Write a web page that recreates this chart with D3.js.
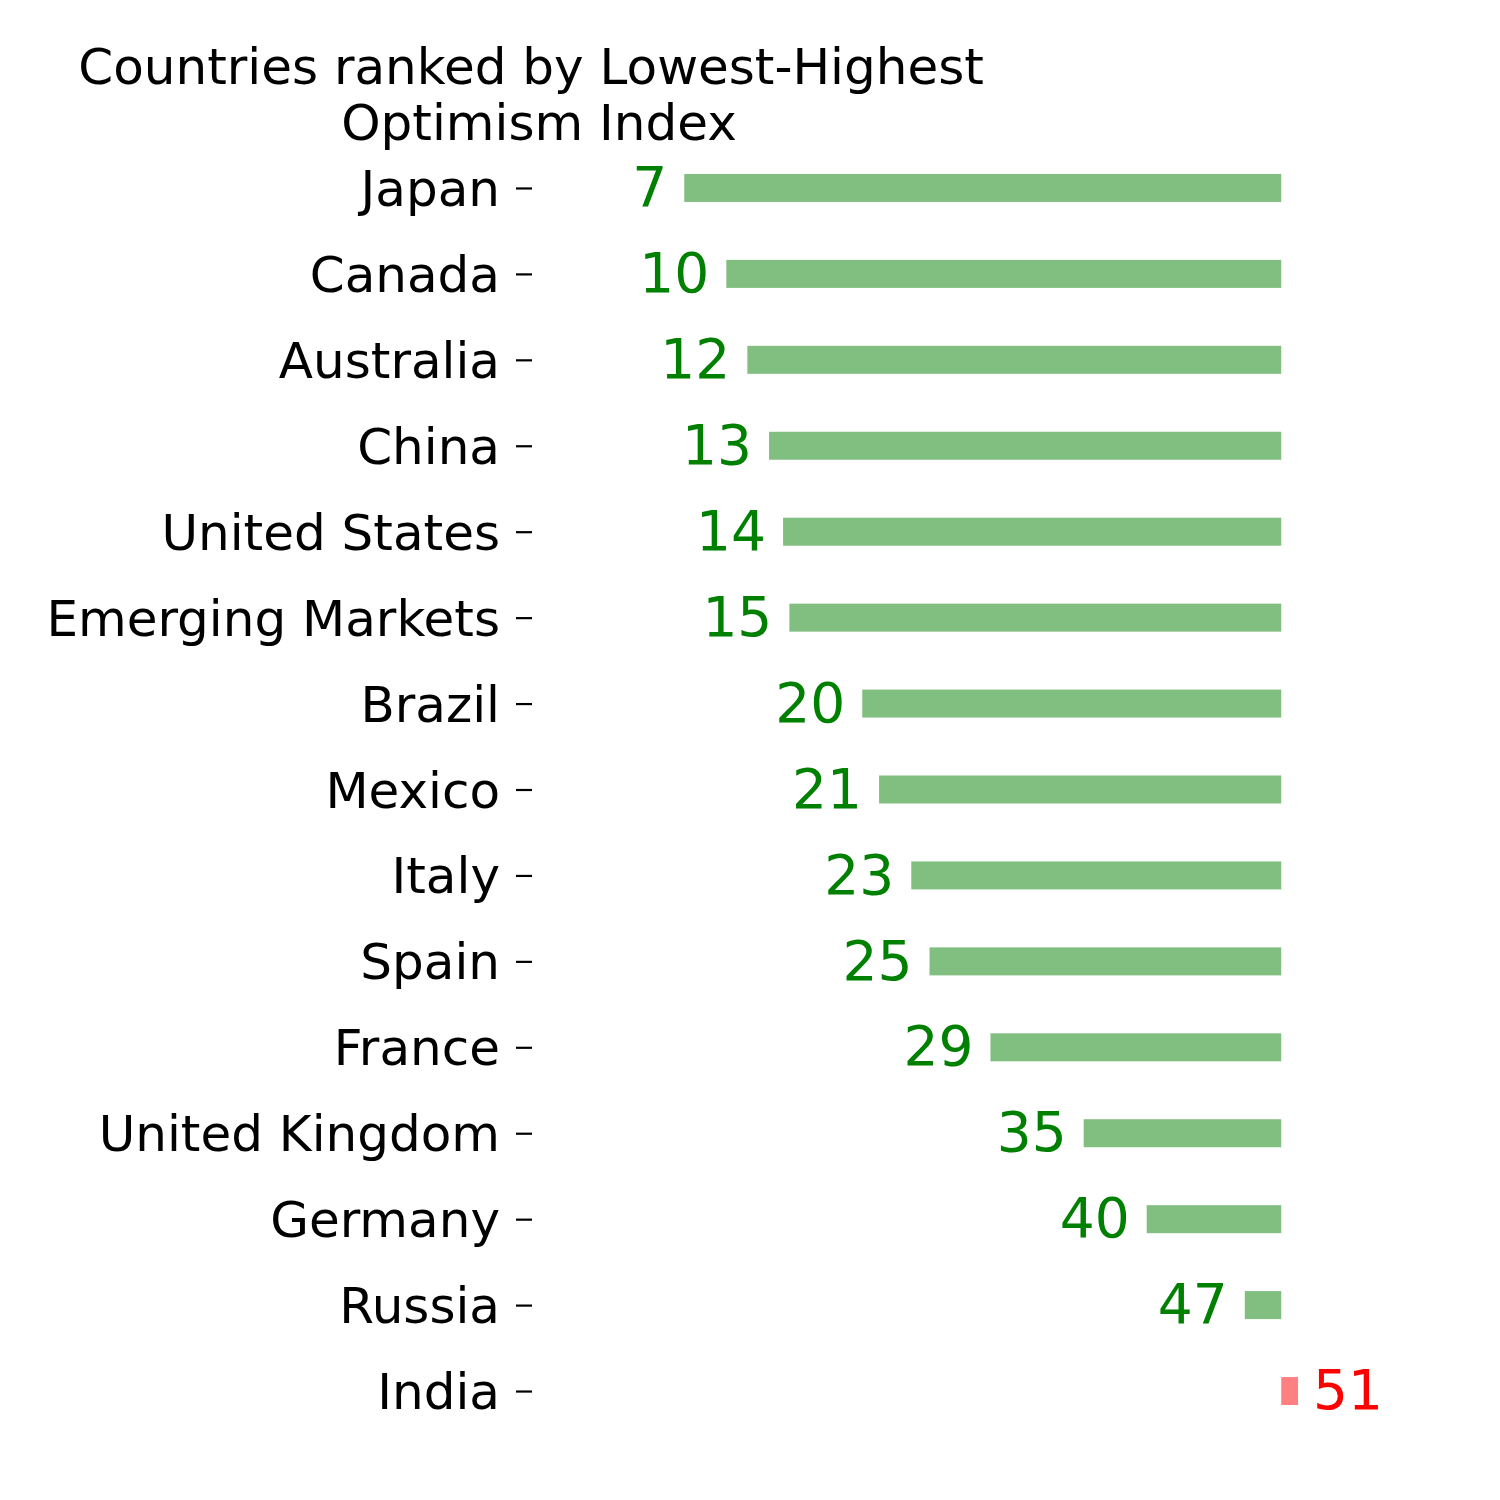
<!DOCTYPE html>
<html>
<head>
	<meta charset="UTF-8">
	<title>Countries ranked by Lowest-Highest Optimism Index</title>
	<style>
		body { margin: 0; background: white; font-family: "DejaVu Sans", sans-serif; }
		.tick line { stroke: black; stroke-width: 2.2; }
		.title { white-space: pre; }
	</style>
</head>
<body>
<div id="chart"></div>
<script src="https://d3js.org/d3.v7.min.js"></script>
<script>

	// data
	let countries = ["Japan", "Canada", "Australia", "China", "United States", "Emerging Markets",
		"Brazil", "Mexico", "Italy", "Spain", "France", "United Kingdom", "Germany", "Russia", "India"];
	// index values
	let values = [7, 10, 11.5, 13.05, 14.05, 14.5, 19.7, 20.9, 23.2, 24.5, 28.85, 35.5, 40, 47, 50.8];
	// printed labels
	let labels = ["7", "10", "12", "13", "14", "15", "20", "21", "23", "25", "29", "35", "40", "47", "51"];
	let baseline = 49.6;   // bars run from the value to this line
	let titleLines = ["Countries ranked by Lowest-Highest ", "Optimism Index"];

	let width = 1500, height = 1500;

	let svg = d3.select("#chart").append("svg")
		.attr("width", width)
		.attr("height", height);

	let x = d3.scaleLinear().domain([0, 55]).range([586.2, 1356.9]);
	let y = d3.scalePoint().domain(countries).range([145, 1434]).padding(0.5);
	let barH = 28;

	let rows = countries.map((c, i) => ({ name: c, value: values[i], label: labels[i] }));

	// bars
	svg.append("g")
		.selectAll("rect")
		.data(rows)
		.enter()
		.append("rect")
		.attr("x", d => x(Math.min(d.value, baseline)))
		.attr("width", d => Math.abs(x(d.value) - x(baseline)))
		.attr("y", d => y(d.name) - barH / 2)
		.attr("height", barH)
		.attr("fill", d => d.value > baseline ? "#ff8080" : "#80bf80");

	// value labels
	svg.append("g")
		.selectAll("text")
		.data(rows)
		.enter()
		.append("text")
		.attr("x", d => d.value > baseline ? x(d.value) + 15 : x(d.value) - 17)
		.attr("y", d => y(d.name))
		.attr("dy", "0.33em")
		.attr("text-anchor", d => d.value > baseline ? "start" : "end")
		.attr("fill", d => d.value > baseline ? "red" : "green")
		.style("font-size", "55px")
		.text(d => d.label);

	// y axis
	let yAxis = svg.append("g")
		.attr("transform", "translate(532,0)")
		.call(d3.axisLeft(y).tickSize(16).tickPadding(16));
	yAxis.select(".domain").remove();
	yAxis.selectAll("text")
		.attr("dy", "0.35em")
		.style("font-size", "50px")
		.style("font-family", "DejaVu Sans")
		.attr("fill", "black");

	// title
	svg.append("g")
		.selectAll("text")
		.data(titleLines)
		.enter()
		.append("text")
		.attr("class", "title")
		.attr("x", 539)
		.attr("y", (d, i) => 84 + i * 56)
		.attr("text-anchor", "middle")
		.style("font-size", "50px")
		.text(d => d);

</script>
</body>
</html>
